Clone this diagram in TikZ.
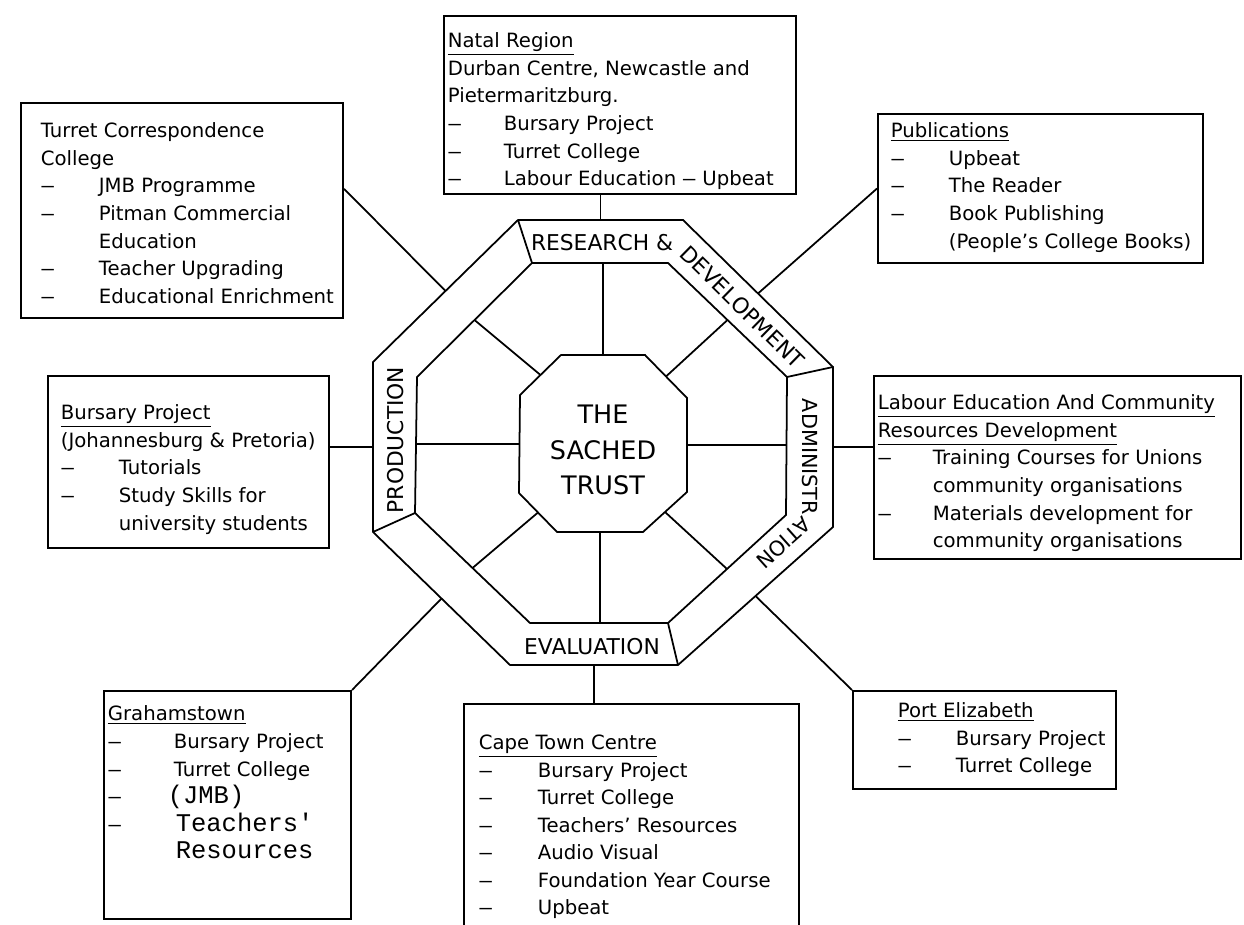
\documentclass[tikz,border=0pt]{standalone}
\usepackage{fontspec}
\usepackage{graphicx}
\setmainfont{DejaVu Sans}
\newfontfamily\monof{Liberation Mono}
\usetikzlibrary{calc, decorations.text}

% dash column in the boxes
\newcommand{\dsh}{\scalebox{0.7}[1]{---}}
\newcommand{\itm}[2][1.16cm]{\makebox[#1][l]{\dsh}#2}
\newcommand{\cnt}[2][1.16cm]{\hspace*{#1}#2}
\newcommand{\typed}[1]{{\monof\fontsize{14.5}{15.7}\selectfont #1}}
\newcommand{\bandfnt}{\fontsize{12.4}{14}\selectfont}

\tikzset{
  box/.style={draw, line width=1.2pt, anchor=north west, inner sep=0pt},
  txt/.style={align=left, anchor=north west, inner sep=0pt, font=\fontsize{11.2}{15.7}\selectfont},
  band/.style={font=\bandfnt}
}

\begin{document}
\begin{tikzpicture}[x=0.02cm, y=-0.02cm, line width=1pt]
\useasboundingbox (0,0) rectangle (1244,925);

% outer octagon
\coordinate (o1) at (518,220); \coordinate (o2) at (683,220);
\coordinate (o3) at (833,367); \coordinate (o4) at (833,527);
\coordinate (o5) at (678,665); \coordinate (o6) at (510,665);
\coordinate (o7) at (373,532); \coordinate (o8) at (373,362);
% inner octagon
\coordinate (i1) at (532,263); \coordinate (i2) at (668,263);
\coordinate (i3) at (787,377); \coordinate (i4) at (786,515);
\coordinate (i5) at (668,623); \coordinate (i6) at (530,623);
\coordinate (i7) at (415,513); \coordinate (i8) at (417,377);
% centre octagon
\coordinate (c1) at (561,355); \coordinate (c2) at (645,355);
\coordinate (c3) at (687,398); \coordinate (c4) at (687,492);
\coordinate (c5) at (643,532); \coordinate (c6) at (557,532);
\coordinate (c7) at (519,493); \coordinate (c8) at (520,395);

\draw (o1) -- (o2) -- (o3) -- (o4) -- (o5) -- (o6) -- (o7) -- (o8) -- cycle;
\draw (i1) -- (i2) -- (i3) -- (i4) -- (i5) -- (i6) -- (i7) -- (i8) -- cycle;
\draw (c1) -- (c2) -- (c3) -- (c4) -- (c5) -- (c6) -- (c7) -- (c8) -- cycle;

% band dividers
\draw (o1) -- (i1);
\draw (o3) -- (i3);
\draw (o5) -- (i5);
\draw (o7) -- (i7);

% spokes
\coordinate (ct) at ($(c1)!.5!(c2)$);
\coordinate (cb) at ($(c5)!.5!(c6)$);
\coordinate (cl) at ($(c7)!.5!(c8)$);
\coordinate (cr) at ($(c3)!.5!(c4)$);
\draw (ct) -- (ct |- i1);
\draw (cb) -- (cb |- i5);
\draw (cl) -- (cl -| i8);
\draw (cr) -- (cr -| i3);
\foreach \a/\b in {2/3,4/5,6/7,8/1}
  \draw ($(i\a)!.5!(i\b)$) -- ($(c\a)!.5!(c\b)$);

\node[font=\fontsize{14.5}{20}\selectfont, align=center] (trust) at (603,450) {THE\\SACHED\\TRUST};

% band labels
\path[decorate, decoration={text along path, text={|\bandfnt|RESEARCH {\&} DEVELOPMENT}}]
  (531,251) -- (674,251) -- (815,389);
\path[decorate, decoration={text along path, text={|\fontsize{11.8}{14}\selectfont|ADMINISTRATION}}]
  (802,399) -- (802,516) -- (727,583);
\node[band] (eval) at (592,647) {EVALUATION};
\node[band, rotate=90] (prod) at (396,440) {PRODUCTION};

% boxes
\node[box, minimum width=7.04cm, minimum height=3.56cm] (natal) at (443,15) {};
\node[txt] (natal-t) at (447,32) {\underline{Natal Region}\\
  Durban Centre, Newcastle and\\
  Pietermaritzburg.\\
  \itm[1.12cm]{Bursary Project}\\
  \itm[1.12cm]{Turret College}\\
  \itm[1.12cm]{Labour Education \dsh{} Upbeat}};

\node[box, minimum width=6.44cm, minimum height=4.30cm] (turret) at (20,102) {};
\node[txt] (turret-t) at (40,122) {Turret Correspondence\\
  College\\
  \itm{JMB Programme}\\
  \itm{Pitman Commercial}\\
  \cnt{Education}\\
  \itm{Teacher Upgrading}\\
  \itm{Educational Enrichment}};

\node[box, minimum width=6.50cm, minimum height=2.98cm] (pub) at (877,113) {};
\node[txt] (pub-t) at (890,122) {\underline{Publications}\\
  \itm{Upbeat}\\
  \itm{The Reader}\\
  \itm{Book Publishing}\\
  \cnt{(People's College Books)}};

\node[box, minimum width=5.62cm, minimum height=3.44cm] (bursary) at (47,375) {};
\node[txt] (bursary-t) at (60,404) {\underline{Bursary Project}\\
  (Johannesburg \& Pretoria)\\
  \itm{Tutorials}\\
  \itm{Study Skills for}\\
  \cnt{university students}};

\node[box, minimum width=7.34cm, minimum height=3.66cm] (labour) at (873,375) {};
\node[txt] (labour-t) at (877,394) {\underline{Labour Education And Community}\\
  \underline{Resources Development}\\
  \itm[1.1cm]{Training Courses for Unions}\\
  \cnt[1.1cm]{community organisations}\\
  \itm[1.1cm]{Materials development for}\\
  \cnt[1.1cm]{community organisations}};

\node[box, minimum width=4.94cm, minimum height=4.56cm] (grahams) at (103,690) {};
\node[txt] (grahams-t) at (107,705) {\underline{Grahamstown}\\
  \itm[1.32cm]{Bursary Project}\\
  \itm[1.32cm]{Turret College}\\
  \itm[1.2cm]{\typed{(JMB)}}\\
  \itm[1.36cm]{\typed{Teachers'}}\\
  \cnt[1.36cm]{\typed{Resources}}};

\node[box, minimum width=6.70cm, minimum height=5.20cm] (cape) at (463,703) {};
\node[txt] (cape-t) at (478,734) {\underline{Cape Town Centre}\\
  \itm[1.18cm]{Bursary Project}\\
  \itm[1.18cm]{Turret College}\\
  \itm[1.18cm]{Teachers' Resources}\\
  \itm[1.18cm]{Audio Visual}\\
  \itm[1.18cm]{Foundation Year Course}\\
  \itm[1.18cm]{Upbeat}};

\node[box, minimum width=5.26cm, minimum height=1.96cm] (pe) at (852,690) {};
\node[txt] (pe-t) at (897,702) {\underline{Port Elizabeth}\\
  \itm{Bursary Project}\\
  \itm{Turret College}};

% connectors
\coordinate (ot) at ($(o1)!.5!(o2)$);
\coordinate (our) at ($(o2)!.5!(o3)$);
\coordinate (ort) at ($(o3)!.5!(o4)$);
\coordinate (olr) at ($(o4)!.5!(o5)$);
\coordinate (ob) at ($(o5)!.5!(o6)$);
\coordinate (oll) at ($(o6)!.5!(o7)$);
\coordinate (olf) at ($(o7)!.5!(o8)$);
\coordinate (oul) at ($(o8)!.5!(o1)$);

\draw (ot) -- (ot |- natal.south);
\draw (oul) -- ($(turret.north east)!.4!(turret.south east)$);
\draw (our) -- (pub.west);
\draw (olf) -- (olf -| bursary.east);
\draw (ort) -- (ort -| labour.west);
\draw (oll) -- (grahams.north east);
\draw (ob) -- (ob |- cape.north);
\draw (olr) -- (pe.north west);
\end{tikzpicture}
\end{document}
